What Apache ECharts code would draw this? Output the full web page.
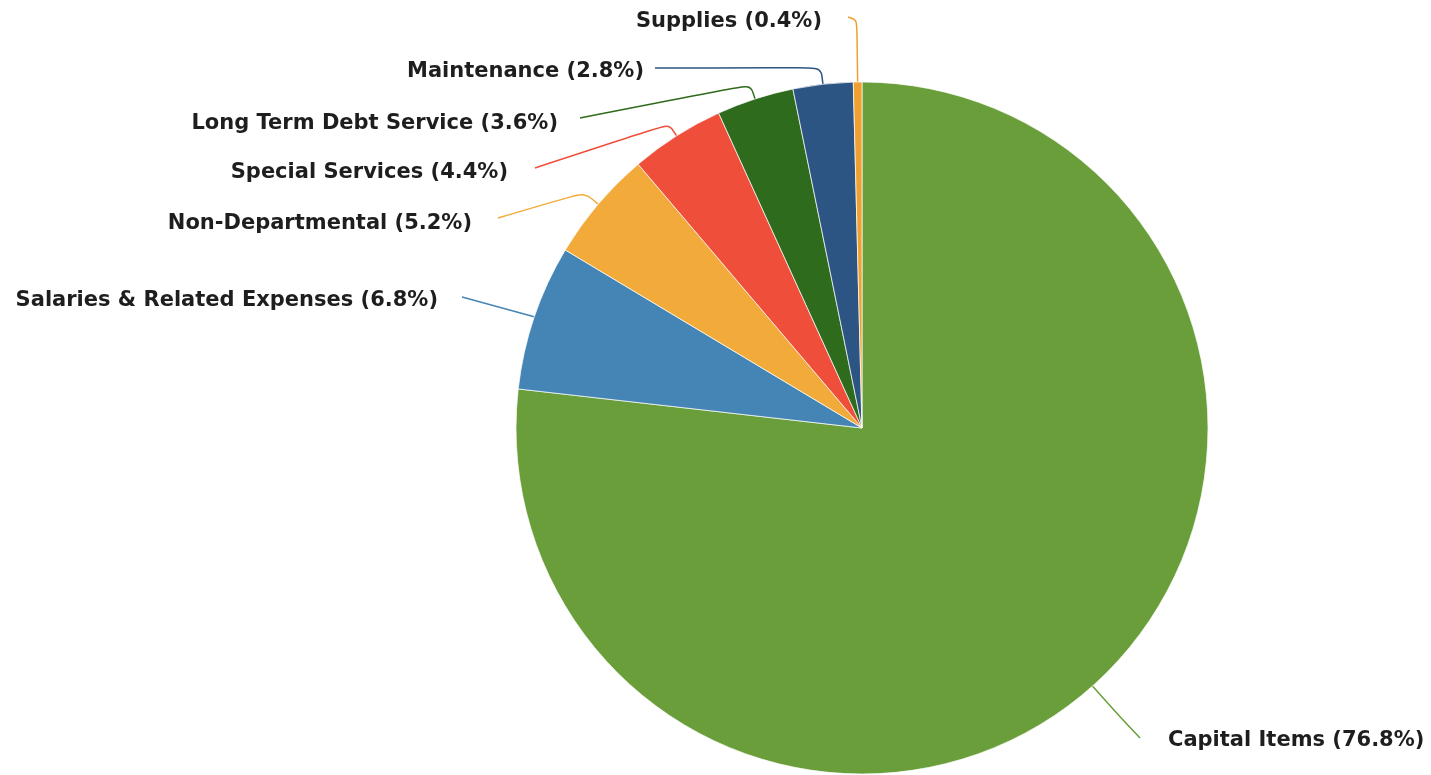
<!DOCTYPE html>
<html>
<head>
<meta charset="utf-8">
<script src="https://cdn.jsdelivr.net/npm/echarts@6/dist/echarts.min.js"></script>
<style>
html,body{margin:0;padding:0;background:#fff;}
#chart{width:1431px;height:775px;}
</style>
</head>
<body>
<div id="chart"></div>
<script>
const categories = ["Capital Items", "Salaries & Related Expenses", "Non-Departmental", "Special Services", "Long Term Debt Service", "Maintenance", "Supplies"];
const values = [76.8, 6.8, 5.2, 4.4, 3.6, 2.8, 0.4];
const colors = ["#6a9e3a", "#4585b5", "#f2ab3a", "#ef4e3a", "#2f6b1c", "#2d5584", "#f0a030"];

// label layout (pixel positions of label text anchors, side, gap to line, radial stub length)
const labelX = [1168, 438, 472, 508, 558, 644, 822];
const labelY = [741, 301, 224, 173, 124, 72, 22];
const labelSide = ['left', 'right', 'right', 'right', 'right', 'right', 'right'];
const lineGap = [28, 24, 26, 27, 22, 11, 26];
const lineEndDy = [-3, -4, -6, -5, -6, -4, -5];
const stub = [42, 3, 18, 14, 15, 17, 62];

const CX = 862, CY = 428, R = 346;

const chart = echarts.init(document.getElementById('chart'));
chart.setOption({
  animation: false,
  series: [{
    type: 'pie',
    center: [CX, CY],
    radius: R,
    startAngle: 90,
    clockwise: true,
    avoidLabelOverlap: false,
    data: categories.map((c, i) => ({ name: c, value: values[i], itemStyle: { color: colors[i] } })),
    itemStyle: { borderColor: 'rgba(255,255,255,0.7)', borderWidth: 1 },
    label: {
      formatter: p => p.name + ' (' + values[p.dataIndex].toFixed(1) + '%)',
      fontFamily: 'DejaVu Sans',
      fontWeight: 'bold',
      fontSize: 21,
      color: '#1e1e1e'
    },
    labelLine: { show: true, length: 10, length2: 10, smooth: 0.3, lineStyle: { width: 1.5 } },
    labelLayout: function (params) {
      const i = params.dataIndex;
      const pts = params.labelLinePoints;
      const a = pts ? pts[0] : [CX, CY - R];
      const dx = a[0] - CX, dy = a[1] - CY;
      const len = Math.sqrt(dx * dx + dy * dy) || 1;
      const p1 = [a[0] + dx / len * stub[i], a[1] + dy / len * stub[i]];
      const side = labelSide[i];
      const endX = side === 'right' ? labelX[i] + lineGap[i] : labelX[i] - lineGap[i];
      const p2 = [endX, labelY[i] + lineEndDy[i]];
      return {
        x: labelX[i],
        y: labelY[i],
        align: side === 'right' ? 'right' : 'left',
        verticalAlign: 'middle',
        labelLinePoints: [a, p1, p2]
      };
    }
  }]
});
</script>
</body>
</html>
